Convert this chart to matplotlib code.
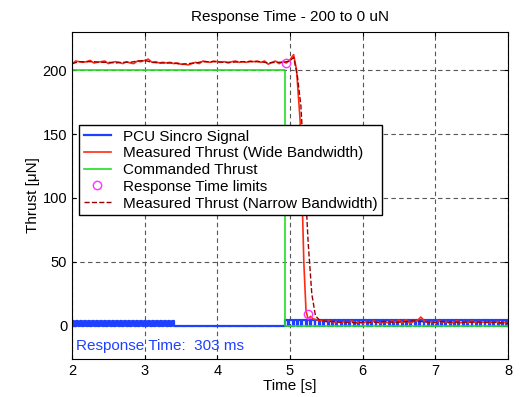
import numpy as np
import matplotlib.pyplot as plt

plt.rcParams['font.family'] = ['Liberation Sans', 'DejaVu Sans']

# ========== data ==========
# PCU sync clock: bursts of pulses (start, end, period), pulse height
sync_bursts = [(2.0, 3.42, 0.055), (4.93, 8.0, 0.06)]
sync_high = [4.2, 4.8]
sync_duty = [0.6, 0.8]

# wide bandwidth thrust before the step (2.00 .. 4.95, every 0.05 s)
wide_pre = [204.5, 207, 206.5, 206, 206.5, 207.5, 205.5, 206, 206.5, 207,
            205, 206, 206.5, 206, 205, 206.5, 205.5, 205, 207, 206.5,
            207.5, 208.5, 206, 206.5, 205.5, 206, 205.5, 206, 205, 205.5,
            204.5, 204.5, 204, 205, 206, 205, 207, 206.5, 206, 207,
            206.5, 206, 206.5, 205.5, 206.5, 207, 206, 206.5, 206, 207,
            206.5, 207, 206, 207, 204.5, 206, 207, 205, 206.5, 205.5]
# the drop
wide_step_t = [5.00, 5.05, 5.09, 5.14, 5.19, 5.22, 5.25, 5.28, 5.32, 5.36, 5.40]
wide_step_y = [208, 212, 200, 160, 50, 12, 5, 7.5, 5.5, 5, 4.5]
# after the step (5.45 .. 8.00, every 0.05 s)
wide_post = [4, 3.5, 4, 3, 3.5, 2.5, 3.5, 3, 4, 2.5,
             3, 2, 3.5, 2.5, 4, 3, 2, 3.5, 2.5, 4,
             3, 4.5, 2.5, 5, 2, 3.5, 4, 7, 4, 3,
             3.5, 2.5, 4, 3, 3.5, 2, 3, 4, 2.5, 3.5,
             2.5, 4, 3, 3.5, 3, 3, 2.5, 3, 3.5, 2,
             3, 1.5]

# narrow bandwidth thrust (2.0 .. 4.9 every 0.1 s, step, 5.5 .. 8.0 every 0.1 s)
narrow_pre = [205, 206.5, 206.5, 206.5, 206, 206, 205.5, 206, 206, 207,
              207.5, 206, 205.5, 205.5, 205.5, 204.5, 205, 205.5, 206.5, 206.5,
              206.5, 206, 206, 206.5, 206.5, 206.5, 206.5, 205.5, 206, 206]
narrow_step_t = [5.00, 5.05, 5.10, 5.15, 5.20, 5.25, 5.30, 5.35, 5.40, 5.45]
narrow_step_y = [207, 210, 196, 172, 120, 65, 25, 8, 5, 4]
narrow_post = [3.5, 3.5, 3, 3, 2.5, 3, 3, 3, 3.5, 3,
               3, 3.5, 4, 3.5, 3, 3, 3.5, 3, 3, 3,
               3, 3, 3, 3, 2.5, 2]

cmd_t = [2.0, 4.93, 4.93, 8.0]
cmd_y = [200, 200, 0, 0]

limits_t = [4.94, 5.243]
limits_y = [205.5, 9]

response_ms = 303

# ========== build series ==========
sync_t, sync_y = [2.0], [0.0]
for (t0, t1, per), duty, high in zip(sync_bursts, sync_duty, sync_high):
    for ts in np.arange(t0, t1, per):
        sync_t += [ts, ts, ts + duty * per, ts + duty * per]
        sync_y += [0, high, high, 0]
sync_t.append(8.0)
sync_y.append(0.0)

wide_t = list(np.round(np.arange(2.0, 4.951, 0.05), 3)) + wide_step_t + \
    list(np.round(np.arange(5.45, 8.001, 0.05), 3))
wide_y = wide_pre + wide_step_y + wide_post

narrow_t = list(np.round(np.arange(2.0, 4.91, 0.1), 3)) + narrow_step_t + \
    list(np.round(np.arange(5.5, 8.01, 0.1), 3))
narrow_y = narrow_pre + narrow_step_y + narrow_post

# ========== plot ==========
fig = plt.figure(figsize=(5.24, 3.97), dpi=100)
ax = fig.add_axes([0.1374, 0.0957, 0.8321, 0.8237])

ax.plot(sync_t, sync_y, color='#2040ff', lw=1.6, label='PCU Sincro Signal')
ax.plot(wide_t, wide_y, color='#ff2a10', lw=1.2,
        label='Measured Thrust (Wide Bandwidth)')
ax.plot(cmd_t, cmd_y, color='#22dd22', lw=1.2, label='Commanded Thrust')
ax.plot(limits_t, limits_y, 'o', ms=6, mfc='none', mec='#ff33ff', mew=1.0,
        label='Response Time limits')
ax.plot(narrow_t, narrow_y, '--', color='#990000', lw=1.0,
        label='Measured Thrust (Narrow Bandwidth)')

ax.set_xlim(2, 8)
ax.set_ylim(-25.8, 229.7)
ax.set_xticks([2, 3, 4, 5, 6, 7, 8])
ax.set_yticks([0, 50, 100, 150, 200])
ax.tick_params(direction='in', top=True, right=True, labelsize=10.5, length=3)
ax.grid(True, color='#555555', linestyle=(0, (4, 3)), lw=0.8)
ax.set_axisbelow(True)

ax.set_title('Response Time - 200 to 0 uN', fontsize=11, pad=8)
ax.set_xlabel('Time [s]', fontsize=11, labelpad=1)
ax.set_ylabel('Thrust [\u03bcN]', fontsize=11, labelpad=2)

ax.text(2.05, -15.6, 'Response Time:  %d ms' % response_ms, color='#2040ff',
        fontsize=11, va='center')

leg = ax.legend(loc='upper left', bbox_to_anchor=(0.016, 0.7156), fontsize=11,
                labelspacing=0.18, handlelength=1.8, handletextpad=0.8,
                borderpad=0.3, frameon=True, fancybox=False, framealpha=1,
                borderaxespad=0)
leg.get_frame().set_edgecolor('black')
leg.get_frame().set_linewidth(1.0)

plt.savefig('out.png')
